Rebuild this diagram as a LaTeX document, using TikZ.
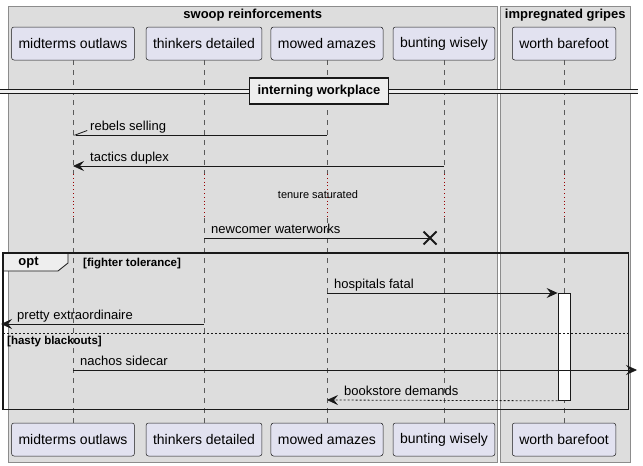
\documentclass[tikz,border=0pt]{standalone}
\usepackage{fontspec}
\setmainfont{Liberation Sans}
\usepackage{tikz}
\usetikzlibrary{arrows.meta,calc,positioning,shapes.misc}
\definecolor{boxbg}{HTML}{DDDDDD}
\definecolor{partbg}{HTML}{E2E2F0}
\definecolor{tabbg}{HTML}{EEEEEE}
\newcommand{\clrline}{black!90}
\newcommand{\clrlife}{black!65}
\newcommand{\clrdelay}{red!60!black}
\newcommand{\clrframe}{black!45}

\begin{document}
\begin{tikzpicture}[x=1pt, y=-1pt,
    box/.style={draw=\clrframe, fill=boxbg, line width=0.6pt, anchor=north west, inner sep=0pt},
    boxtitle/.style={font=\bfseries\fontsize{13}{15}\selectfont, inner sep=0pt},
    participant/.style={draw=\clrline, fill=partbg, rounded corners=2.5pt, line width=0.5pt,
        minimum height=33pt, inner xsep=7pt, font=\fontsize{14}{16}\selectfont},
    lifeline/.style={draw=\clrlife, line width=0.5pt, dash pattern=on 5pt off 5pt},
    delayline/.style={draw=\clrdelay, line width=0.7pt, dash pattern=on 0.8pt off 3pt},
    divider/.style={draw=\clrline, line width=1pt, double=tabbg, double distance=3pt},
    dividerbox/.style={draw=\clrline, fill=tabbg, line width=1.5pt, minimum height=26pt,
        inner xsep=8pt, font=\bfseries\fontsize{13}{15}\selectfont},
    msg/.style={draw=\clrline, line width=0.8pt},
    head/.style={-{Stealth[length=11pt, width=10pt, inset=4pt]}},
    msglabel/.style={font=\fontsize{13}{15}\selectfont, anchor=base west, inner sep=0pt},
    delaylabel/.style={font=\fontsize{11}{13}\selectfont, inner sep=0pt},
    destroy/.style={cross out, draw=\clrline, line width=2pt, minimum size=11pt, inner sep=0pt},
    activation/.style={draw=\clrline, fill=white, line width=0.8pt, minimum width=12pt,
        inner sep=0pt, anchor=north},
    tablabel/.style={font=\bfseries\fontsize{13}{15}\selectfont, inner sep=0pt},
    condlabel/.style={font=\bfseries\fontsize{11.5}{13}\selectfont, inner sep=0pt, anchor=west},
    elsesep/.style={draw=\clrline, line width=0.7pt, dash pattern=on 2pt off 2pt}
]
\useasboundingbox (0,0) rectangle (643,466);

%boxes
\node[box, minimum width=489pt, minimum height=456pt] (swoop) at (8,6) {};
\node[box, minimum width=130pt, minimum height=456pt] (gripes) at (500,6) {};
\node[boxtitle] (swoopT) at (swoop.north |- 0,15) {swoop reinforcements};
\node[boxtitle] (gripesT) at (gripes.north |- 0,15) {impregnated gripes};

%participants
\foreach \name/\xpos/\txt in {mid/73/midterms outlaws, thi/204/thinkers detailed,
        mow/327/mowed amazes, bun/444/bunting wisely, wor/564/worth barefoot} {
    \node[participant] (\name) at (\xpos,43.5) {\txt};
    \node[participant] (\name bot) at (\xpos,439.5) {\txt};
    \coordinate (\name D1) at (\xpos,174);
    \coordinate (\name D2) at (\xpos,218);
    \draw[lifeline] (\name) -- (\name D1);
    \draw[delayline] (\name D1) -- (\name D2);
    \draw[lifeline] (\name D2) -- (\name bot);
}

%divider
\coordinate (divL) at (0,91);
\coordinate (divR) at (638,91);
\draw[divider] (divL) -- (divR);
\node[dividerbox] (interning) at (319,91) {interning workplace};

%messages
\coordinate (m1s) at (mow |- 0,135);
\coordinate (m1e) at (mid |- 0,135);
\draw[msg, -{Straight Barb[right, length=12pt, width=9pt]}] (m1s) -- (m1e);
\node[msglabel] (m1l) at ($(m1e)+(17,-4.5)$) {rebels selling};

\coordinate (m2s) at (bun |- 0,166);
\coordinate (m2e) at (mid |- 0,166);
\draw[msg, head] (m2s) -- (m2e);
\node[msglabel] (m2l) at ($(m2e)+(17,-4.5)$) {tactics duplex};

\node[delaylabel] (tenure) at (318,195) {tenure saturated};

\coordinate (m3s) at (thi |- 0,238);
\node[destroy] (kill) at (430,238) {};
\draw[msg] (m3s) -- (kill.center);
\node[msglabel] (m3l) at ($(m3s)+(7,-4.5)$) {newcomer waterworks};

%opt
\node[minimum width=625pt, minimum height=156pt, anchor=north west, inner sep=0pt] (opt) at (3,253) {};
\draw[draw=\clrline, fill=tabbg, line width=0.8pt] (opt.north west) -- ++(65,0) -- ++(0,10)
    -- ++(-10,8) -- ++(-55,0) -- cycle;
\draw[draw=\clrline, line width=1.5pt] (opt.north west) rectangle (opt.south east);
\node[tablabel] (optL) at (28.5,263) {opt};
\node[condlabel] (cond1) at (83,264) {[fighter tolerance]};

\node[activation, minimum height=107pt] (act) at (wor |- 0,293) {};

\coordinate (m4s) at (mow |- 0,293);
\draw[msg, head] (m4s) -- (act.north west);
\node[msglabel] (m4l) at ($(m4s)+(7,-4.5)$) {hospitals fatal};

\coordinate (m5s) at (thi |- 0,324);
\coordinate (lost) at (1,324);
\draw[msg, head] (m5s) -- (lost);
\node[msglabel] (m5l) at ($(lost)+(16,-4.5)$) {pretty extraordinaire};

\coordinate (sepL) at (opt.west |- 0,333);
\coordinate (sepR) at (opt.east |- 0,333);
\draw[elsesep] (sepL) -- (sepR);
\node[condlabel] (cond2) at (7,342) {[hasty blackouts]};

\coordinate (m6s) at (mid |- 0,370);
\coordinate (found) at (637,370);
\draw[msg, head] (m6s) -- (found);
\node[msglabel] (m6l) at ($(m6s)+(7,-4.5)$) {nachos sidecar};

\coordinate (m7e) at (mow |- 0,400);
\draw[msg, head, dash pattern=on 2pt off 2pt] (act.south west) -- (m7e);
\node[msglabel] (m7l) at ($(m7e)+(17,-4.5)$) {bookstore demands};

\end{tikzpicture}
\end{document}
